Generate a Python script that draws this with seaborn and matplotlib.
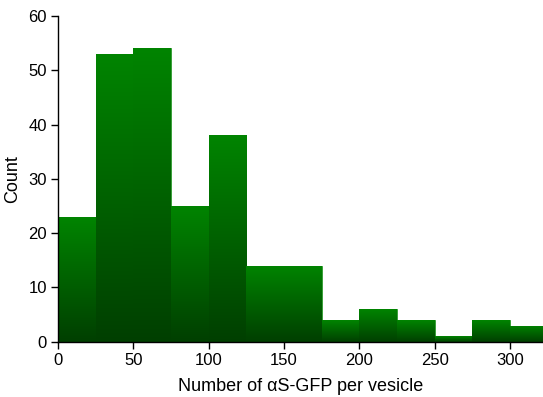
import numpy as np
import seaborn as sns
import matplotlib.pyplot as plt
from matplotlib.colors import LinearSegmentedColormap

# histogram counts, bin width 25
bin_edges = [0, 25, 50, 75, 100, 125, 150, 175, 200, 225, 250, 275, 300, 325]
counts = [23, 53, 54, 25, 38, 14, 14, 4, 6, 4, 1, 4, 3]
bin_left = bin_edges[:-1]

sns.set_style('ticks')
plt.rcParams['font.family'] = ['Liberation Sans', 'DejaVu Sans']
plt.rcParams['text.color'] = 'black'
plt.rcParams['axes.labelcolor'] = 'black'
plt.rcParams['xtick.color'] = 'black'
plt.rcParams['ytick.color'] = 'black'

fig = plt.figure(figsize=(5.43, 3.97), dpi=100)
ax = fig.add_axes([0.107, 0.139, 0.893, 0.821])

sns.histplot(x=bin_left, weights=counts, bins=bin_edges, ax=ax,
             color='#008000', alpha=1, edgecolor='#2f9a2f', linewidth=0.6)

# vertical gradient on each bar: bright at top, dark at bottom
cmap = LinearSegmentedColormap.from_list('grn', ['#003f00', '#008400'])
grad = np.linspace(0, 1, 256).reshape(-1, 1)
for p in ax.patches:
    x0, y0 = p.get_x(), p.get_y()
    w, h = p.get_width(), p.get_height()
    if h <= 0:
        continue
    im = ax.imshow(grad, cmap=cmap, origin='lower', aspect='auto',
                   extent=(x0, x0 + w, y0, y0 + h), zorder=p.get_zorder() + 0.1)
    im.set_clip_path(p)

ax.set_xlim(0, 322)
ax.set_ylim(0, 60)
ax.set_xticks([0, 50, 100, 150, 200, 250, 300])
ax.set_yticks([0, 10, 20, 30, 40, 50, 60])
ax.set_xlabel('Number of αS-GFP per vesicle', fontsize=13, labelpad=7)
ax.set_ylabel('Count', fontsize=13, labelpad=5)
ax.tick_params(labelsize=12, length=5, width=1, pad=3, color='black', labelcolor='black')
sns.despine(ax=ax)
for s in ['left', 'bottom']:
    ax.spines[s].set_color('black')
    ax.spines[s].set_linewidth(1)
    ax.spines[s].set_zorder(5)

fig.savefig('out.png', dpi=100)
